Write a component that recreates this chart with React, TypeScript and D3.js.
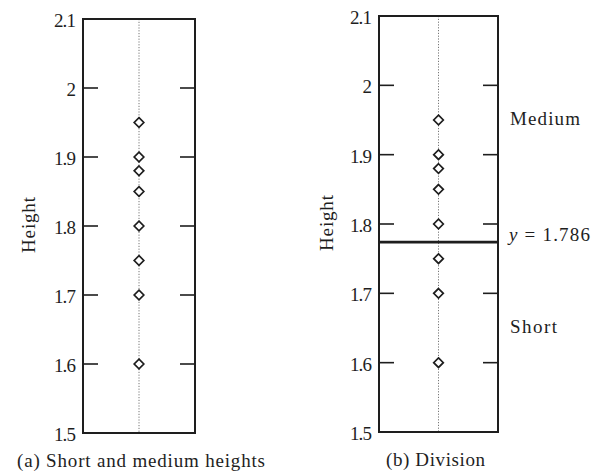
import React from "react";
import * as d3 from "d3";

// ---- data ----
const heights: number[] = [1.95, 1.9, 1.88, 1.85, 1.8, 1.75, 1.7, 1.6];
const yTicks: number[] = [1.5, 1.6, 1.7, 1.8, 1.9, 2.0, 2.1];
const tickLabels: string[] = ["1.5", "1.6", "1.7", "1.8", "1.9", "2", "2.1"];
const yDomain: [number, number] = [1.5, 2.1];
const splitLabel = "1.786";
const splitLevel = 1.774; // where the division line is drawn in the figure
const regionLabels: string[] = ["Medium", "Short"];
const captions: string[] = ["(a) Short and medium heights", "(b) Division"];
const axisTitle = "Height";

const FONT = "'Liberation Serif', 'Times New Roman', serif";
const INK = "#1e1e1e";

type Panel = {
  x0: number;
  x1: number;
  top: number;
  bottom: number;
  labelX: number;
  titleX: number;
  titleY: number;
};

const panels: Panel[] = [
  { x0: 83, x1: 195, top: 19, bottom: 433, labelX: 75, titleX: 35, titleY: 225 },
  { x0: 379, x1: 498, top: 16, bottom: 432, labelX: 371, titleX: 333, titleY: 223 },
];

function Diamond({ cx, cy }: { cx: number; cy: number }) {
  const r = 4.8;
  const d = `M${cx},${cy - r}L${cx + r},${cy}L${cx},${cy + r}L${cx - r},${cy}Z`;
  return <path d={d} fill="#fff" stroke={INK} strokeWidth={1.7} />;
}

function PanelView({ p, showSplit }: { p: Panel; showSplit: boolean }) {
  const y = d3.scaleLinear().domain(yDomain).range([p.bottom, p.top]);
  const cx = (p.x0 + p.x1) / 2;
  const tickLen = 15;
  return (
    <g>
      {/* dotted center line */}
      <line
        x1={cx}
        x2={cx}
        y1={p.top}
        y2={p.bottom}
        stroke="#777"
        strokeWidth={1}
        strokeDasharray="1.2,1.6"
      />
      {/* frame */}
      <rect
        x={p.x0}
        y={p.top}
        width={p.x1 - p.x0}
        height={p.bottom - p.top}
        fill="none"
        stroke={INK}
        strokeWidth={2}
      />
      {/* ticks */}
      {yTicks.map((t, i) => (
        <g key={i}>
          {t > yDomain[0] && t < yDomain[1] && (
            <>
              <line x1={p.x0} x2={p.x0 + tickLen} y1={y(t)} y2={y(t)} stroke={INK} strokeWidth={1.6} />
              <line x1={p.x1 - tickLen} x2={p.x1} y1={y(t)} y2={y(t)} stroke={INK} strokeWidth={1.6} />
            </>
          )}
          <text
            x={p.labelX}
            y={y(t) + 8}
            textAnchor="end"
            fontFamily={FONT}
            fontSize={19}
            fill={INK}
            letterSpacing={-0.9}
          >
            {tickLabels[i]}
          </text>
        </g>
      ))}
      {/* axis title */}
      <text
        transform={`translate(${p.titleX},${p.titleY}) rotate(-90)`}
        textAnchor="middle"
        fontFamily={FONT}
        fontSize={19}
        fill={INK}
        textLength={56}
      >
        {axisTitle}
      </text>
      {/* split line */}
      {showSplit && (
        <line x1={p.x0} x2={p.x1} y1={y(splitLevel)} y2={y(splitLevel)} stroke={INK} strokeWidth={2.8} />
      )}
      {/* points */}
      {heights.map((h, i) => (
        <Diamond key={i} cx={cx} cy={y(h)} />
      ))}
    </g>
  );
}

export default function App() {
  const right = panels[1];
  const yR = d3.scaleLinear().domain(yDomain).range([right.bottom, right.top]);
  return (
    <svg
      width={594}
      height={472}
      viewBox="0 0 594 472"
      style={{ position: "absolute", left: 0, top: 0, background: "#fff" }}
    >
      <rect x={0} y={0} width={594} height={472} fill="#fff" />
      <PanelView p={panels[0]} showSplit={false} />
      <PanelView p={panels[1]} showSplit={true} />

      {/* region labels */}
      <text x={510} y={125} fontFamily={FONT} fontSize={19} fill={INK} textLength={70}>
        {regionLabels[0]}
      </text>
      <text x={509} y={yR(splitLevel) - 1} fontFamily={FONT} fontSize={19} fill={INK} textLength={81}>
        <tspan fontStyle="italic">y</tspan>
        <tspan> =  {splitLabel}</tspan>
      </text>
      <text x={510} y={333} fontFamily={FONT} fontSize={19} fill={INK} textLength={47}>
        {regionLabels[1]}
      </text>

      {/* captions */}
      <text x={17} y={467} fontFamily={FONT} fontSize={19} fill={INK} textLength={248}>
        {captions[0]}
      </text>
      <text x={386} y={466} fontFamily={FONT} fontSize={19} fill={INK} textLength={99}>
        {captions[1]}
      </text>
    </svg>
  );
}
